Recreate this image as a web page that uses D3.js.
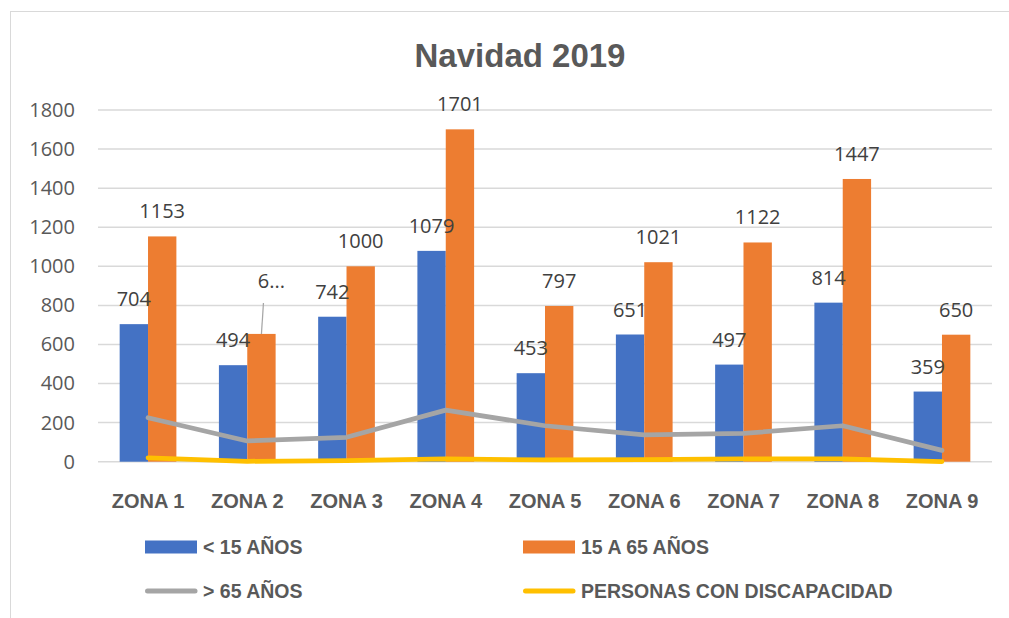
<!DOCTYPE html>
<html><head><meta charset="utf-8">
<script src="https://cdn.jsdelivr.net/npm/d3@7"></script>
<style>html,body{margin:0;padding:0;background:#fff;}svg{display:block;}</style>
</head><body>
<svg id="chart" width="1009" height="618"></svg>
<script>
const categories = ["ZONA 1","ZONA 2","ZONA 3","ZONA 4","ZONA 5","ZONA 6","ZONA 7","ZONA 8","ZONA 9"];
const menores15 = [704, 494, 742, 1079, 453, 651, 497, 814, 359];
const de15a65 = [1153, 654, 1000, 1701, 797, 1021, 1122, 1447, 650];
const mayores65 = [225, 106, 125, 264, 184, 137, 145, 184, 58];
const discapacidad = [20, 2, 6, 14, 9, 10, 14, 14, 1];
const orangeLabelText = ["1153", "6...", "1000", "1701", "797", "1021", "1122", "1447", "650"];
const yTicks = [0, 200, 400, 600, 800, 1000, 1200, 1400, 1600, 1800];
const seriesNames = ["< 15 AÑOS", "15 A 65 AÑOS", "> 65 AÑOS", "PERSONAS CON DISCAPACIDAD"];
const colors = ["#4472c4", "#ed7d31", "#a5a5a5", "#ffc000"];

const svg = d3.select("#chart");
const txt = "#595959";
const numFont = "'Open Sans', 'Liberation Sans', sans-serif";
const boldFont = "'Liberation Sans', Arial, sans-serif";

// frame
svg.append("rect").attr("x", 10.5).attr("y", 11.5).attr("width", 1010).attr("height", 620)
  .attr("fill", "none").attr("stroke", "#d9d9d9").attr("stroke-width", 1);

const x = d3.scaleBand().domain(categories).range([98.4, 991.6]).paddingInner(0).paddingOuter(0);
const inner = d3.scaleBand().domain([0, 1]).range([0, x.bandwidth()]).paddingInner(0).paddingOuter(0.75);
const y = d3.scaleLinear().domain([0, 1800]).range([461.7, 110]);

// title
svg.append("text").attr("x", 520).attr("y", 67).attr("text-anchor", "middle")
  .attr("font-family", boldFont).attr("font-weight", "bold").attr("font-size", 33)
  .attr("fill", txt).text("Navidad 2019");

// grid
svg.append("g").selectAll("line").data(yTicks).join("line")
  .attr("x1", 98).attr("x2", 992).attr("y1", d => y(d)).attr("y2", d => y(d))
  .attr("stroke", "#d9d9d9").attr("stroke-width", 1.5);

// y axis
const yAxis = svg.append("g").attr("transform", "translate(98,0)")
  .call(d3.axisLeft(y).tickValues(yTicks).tickFormat(d3.format("d")).tickSize(0).tickPadding(23));
yAxis.select(".domain").remove();
yAxis.selectAll("text").attr("font-family", numFont).attr("font-size", 20).attr("fill", txt);

// x axis labels
const xAxis = svg.append("g").attr("transform", "translate(0,461.7)")
  .call(d3.axisBottom(x).tickSize(0).tickPadding(0));
xAxis.select(".domain").remove();
xAxis.selectAll("text").attr("font-family", boldFont).attr("font-weight", "bold")
  .attr("font-size", 20).attr("fill", txt).attr("dy", null).attr("y", 46);

// bars
const barSeries = [menores15, de15a65];
barSeries.forEach((vals, s) => {
  svg.append("g").selectAll("rect").data(vals).join("rect")
    .attr("x", (d, i) => x(categories[i]) + inner(s))
    .attr("width", inner.bandwidth())
    .attr("y", d => y(d))
    .attr("height", d => y(0) - y(d))
    .attr("fill", colors[s]);
});

// lines
const line = d3.line().x((d, i) => x(categories[i]) + x.bandwidth() / 2).y(d => y(d));
[mayores65, discapacidad].forEach((vals, k) => {
  svg.append("path").datum(vals).attr("d", line).attr("fill", "none")
    .attr("stroke", colors[k + 2]).attr("stroke-width", 4.75)
    .attr("stroke-linejoin", "round").attr("stroke-linecap", "round");
});

// data labels
svg.append("g").selectAll("text").data(menores15).join("text")
  .attr("x", (d, i) => x(categories[i]) + inner(0) + inner.bandwidth() / 2)
  .attr("y", d => y(d) - 18).attr("text-anchor", "middle")
  .attr("font-family", numFont).attr("font-size", 20).attr("fill", "#404040").text(d => d);

const orangeLab = svg.append("g");
de15a65.forEach((d, i) => {
  const cx = x(categories[i]) + inner(1) + inner.bandwidth() / 2;
  if (orangeLabelText[i] !== String(d)) {
    orangeLab.append("line").attr("x1", cx + 2).attr("y1", y(d) - 31).attr("x2", cx).attr("y2", y(d))
      .attr("stroke", "#a6a6a6").attr("stroke-width", 1.25);
    orangeLab.append("text").attr("x", cx + 10).attr("y", y(d) - 46).attr("text-anchor", "middle")
      .attr("font-family", numFont).attr("font-size", 20).attr("fill", "#404040").text(orangeLabelText[i]);
  } else {
    orangeLab.append("text").attr("x", cx).attr("y", y(d) - 18).attr("text-anchor", "middle")
      .attr("font-family", numFont).attr("font-size", 20).attr("fill", "#404040").text(orangeLabelText[i]);
  }
});

// legend
const legendItems = [
  {name: seriesNames[0], color: colors[0], type: "rect", x: 145, y: 547},
  {name: seriesNames[1], color: colors[1], type: "rect", x: 523, y: 547},
  {name: seriesNames[2], color: colors[2], type: "line", x: 145, y: 591},
  {name: seriesNames[3], color: colors[3], type: "line", x: 523, y: 591}
];
const lg = svg.append("g");
legendItems.forEach(it => {
  if (it.type === "rect") {
    lg.append("rect").attr("x", it.x).attr("y", it.y - 6.5).attr("width", 52).attr("height", 13).attr("fill", it.color);
  } else {
    lg.append("line").attr("x1", it.x + 2.5).attr("x2", it.x + 50).attr("y1", it.y).attr("y2", it.y)
      .attr("stroke", it.color).attr("stroke-width", 5).attr("stroke-linecap", "round");
  }
  lg.append("text").attr("x", it.x + 58).attr("y", it.y + 7).attr("font-family", boldFont)
    .attr("font-weight", "bold").attr("font-size", 19.5).attr("fill", txt).text(it.name);
});
</script>
</body></html>
